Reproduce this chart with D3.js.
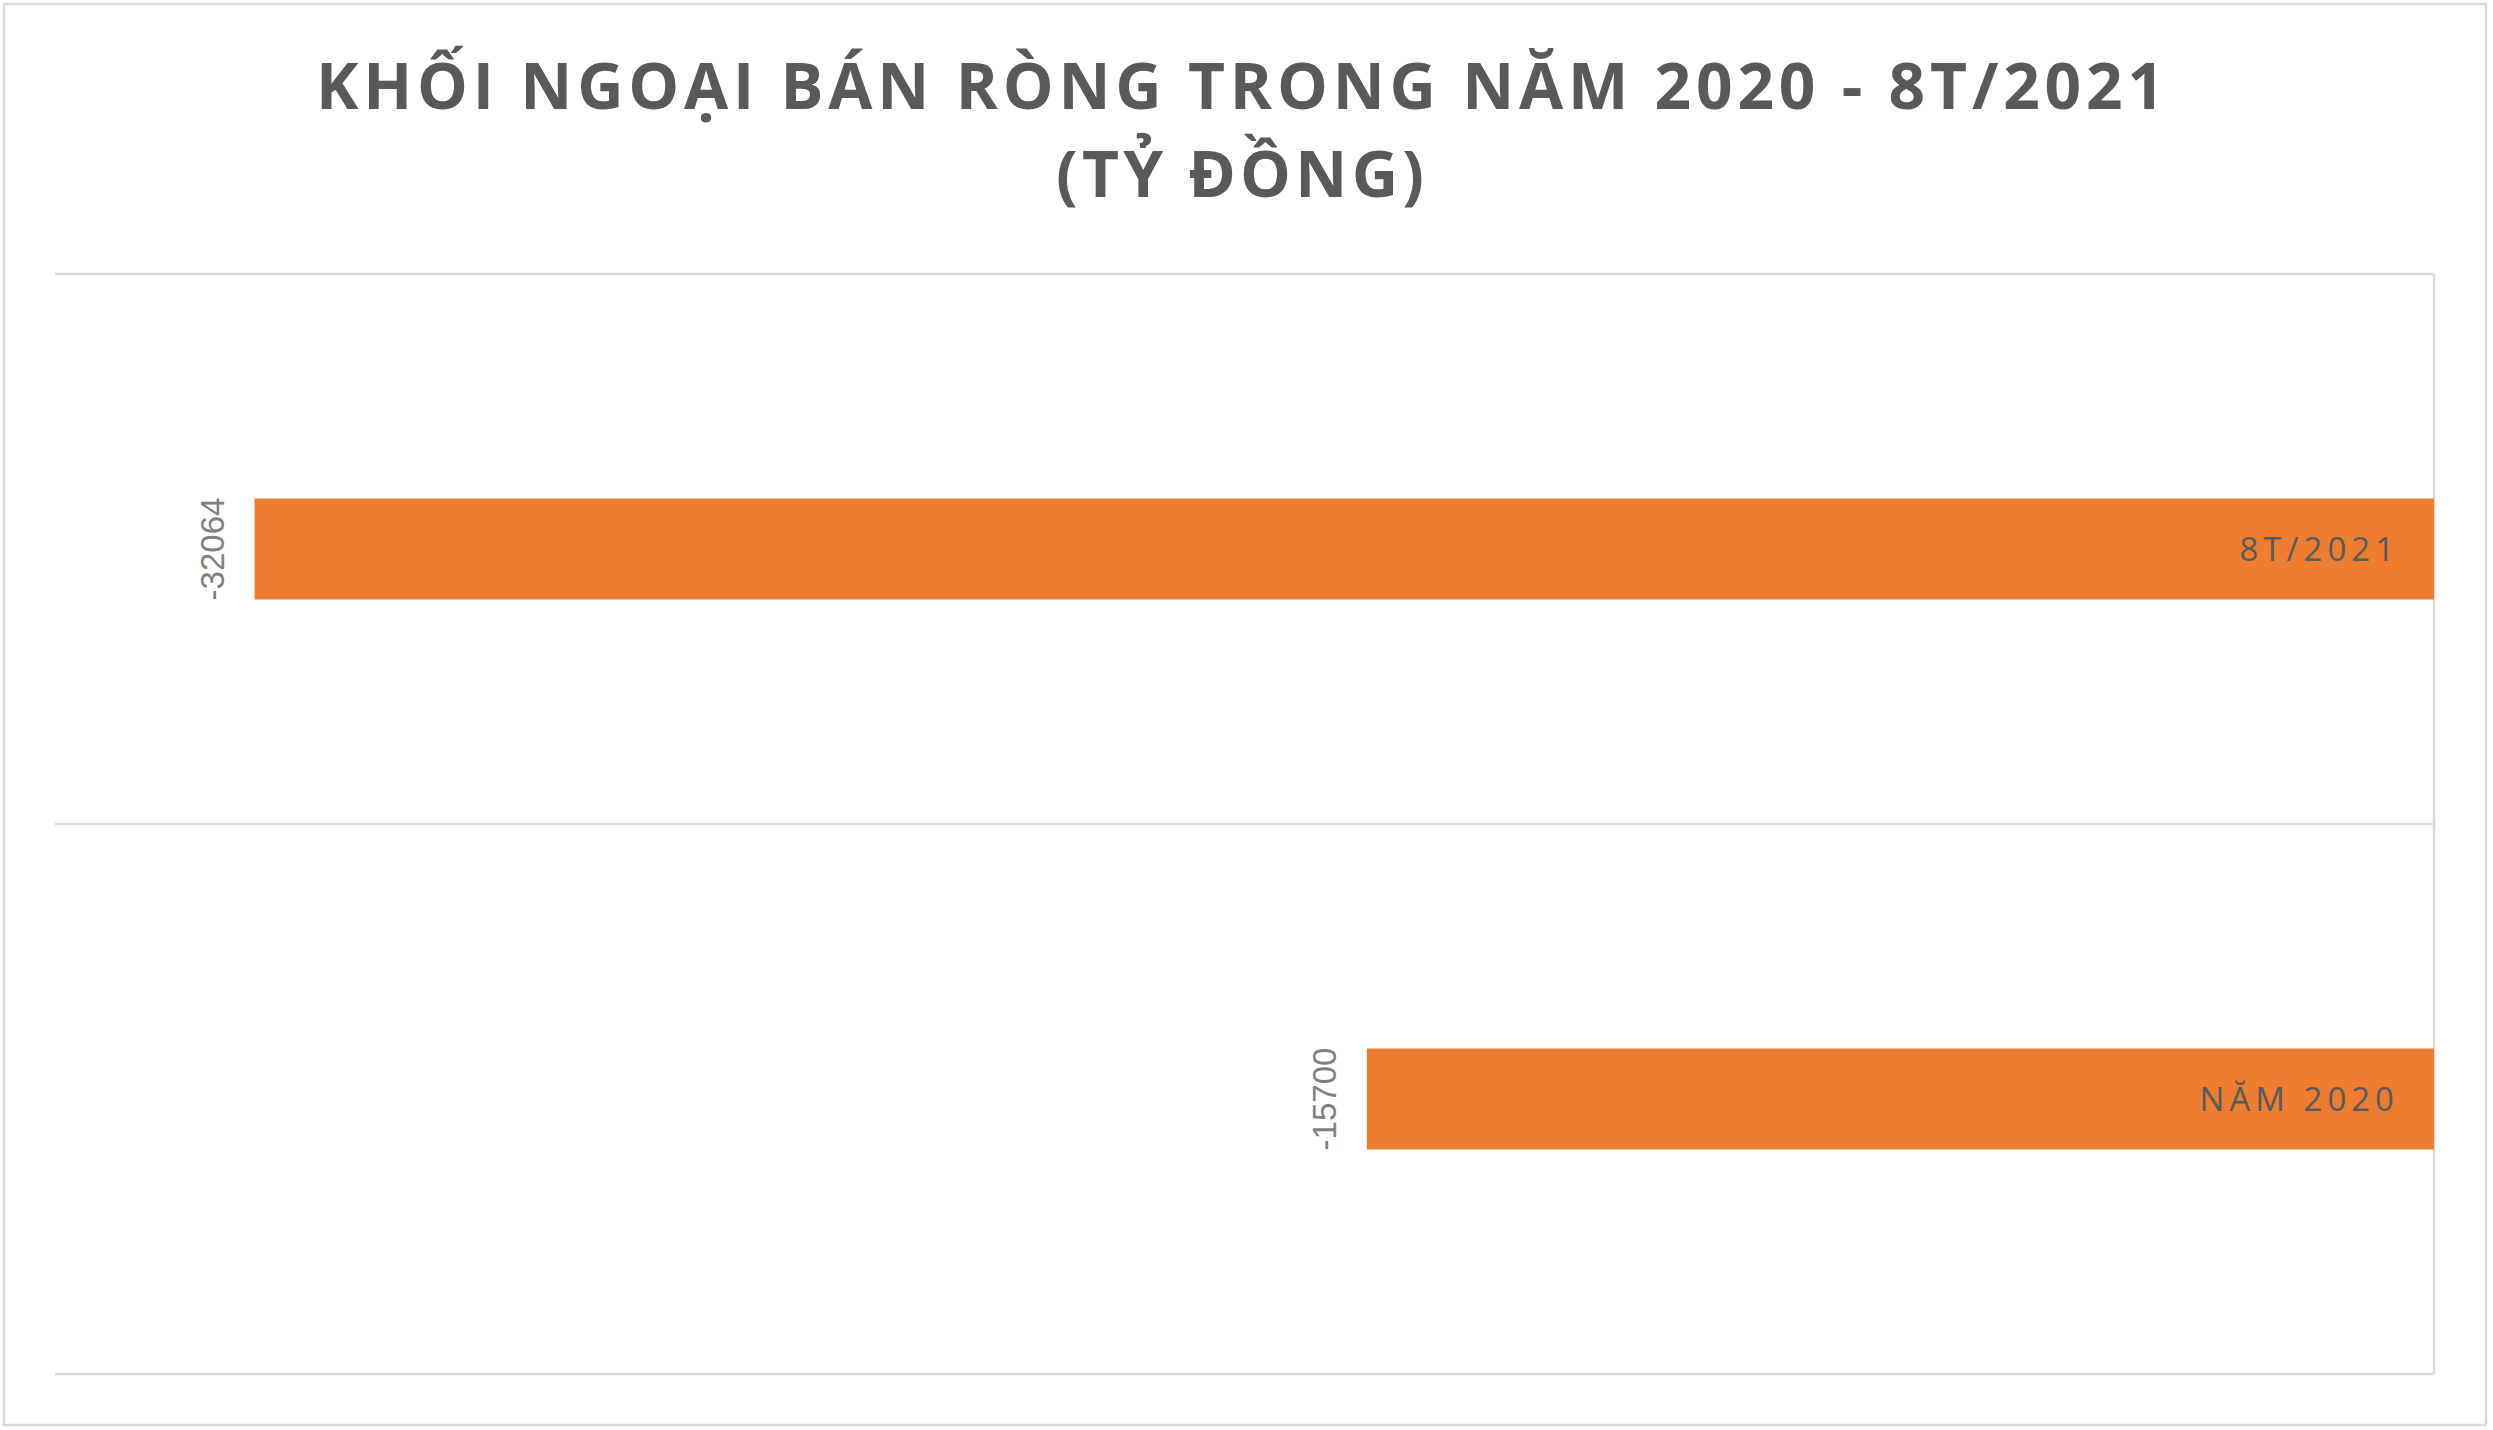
<!DOCTYPE html>
<html>
<head>
<meta charset="utf-8">
<script src="https://cdnjs.cloudflare.com/ajax/libs/d3/7.8.5/d3.min.js"></script>
<style>
  html, body { margin: 0; padding: 0; background: #ffffff; }
  svg { display: block; }
</style>
</head>
<body>
<svg id="chart" width="2493" height="1430"></svg>
<script>
// ---- data ----
const titleLines = ["KHỐI NGOẠI BÁN RÒNG TRONG NĂM 2020 - 8T/2021", "(TỶ ĐỒNG)"];
const categories = ["8T/2021", "NĂM 2020"];   // top to bottom
const values = [-32064, -15700];
const xDomain = [-35000, 0];

// ---- layout ----
const W = 2493, H = 1430;
const plot = { left: 55, right: 2434, top: 274, bottom: 1374 };
const svg = d3.select("#chart");
const grey = "#d9d9d9";
const textGrey = "#595959";

// chart area border
svg.append("rect")
  .attr("x", 4).attr("y", 4)
  .attr("width", 2482).attr("height", 1421)
  .attr("fill", "#fff").attr("stroke", grey).attr("stroke-width", 2.5);

// scales
const x = d3.scaleLinear().domain(xDomain).range([plot.left, plot.right]);
const y = d3.scaleBand().domain(categories).range([plot.top, plot.bottom]).paddingInner(0).paddingOuter(0);
const barFrac = 101 / 550;
const barH = y.bandwidth() * barFrac;

// horizontal gridlines at category boundaries
const bounds = categories.map(c => y(c)).concat([y(categories[categories.length - 1]) + y.bandwidth()]);
svg.append("g").selectAll("line").data(bounds).join("line")
  .attr("x1", plot.left).attr("x2", plot.right)
  .attr("y1", d => d).attr("y2", d => d)
  .attr("stroke", grey).attr("stroke-width", 2.5);

// category axis line at zero
svg.append("line")
  .attr("x1", x(0)).attr("x2", x(0))
  .attr("y1", plot.top).attr("y2", plot.bottom)
  .attr("stroke", grey).attr("stroke-width", 2.5);

const data = categories.map((c, i) => ({ cat: c, val: values[i] }));

// bars
svg.append("g").selectAll("rect").data(data).join("rect")
  .attr("x", d => x(d.val))
  .attr("y", d => y(d.cat) + (y.bandwidth() - barH) / 2)
  .attr("width", d => x(0) - x(d.val))
  .attr("height", barH)
  .attr("fill", "#ED7D31");

// category labels inside bars, right aligned
const ls = 5;
svg.append("g").selectAll("text").data(data).join("text")
  .attr("x", x(0) - 40 + ls)
  .attr("y", d => y(d.cat) + y.bandwidth() / 2)
  .attr("dy", "0.35em")
  .attr("text-anchor", "end")
  .attr("font-family", "'Open Sans', sans-serif")
  .attr("font-size", 33)
  .attr("letter-spacing", ls)
  .attr("fill", textGrey)
  .text(d => d.cat);

// value labels, rotated
svg.append("g").selectAll("text").data(data).join("text")
  .attr("transform", d => `translate(${x(d.val) - 31},${y(d.cat) + y.bandwidth() / 2}) rotate(-90)`)
  .attr("text-anchor", "middle")
  .attr("font-family", "'Liberation Sans', Arial, sans-serif")
  .attr("font-size", 33)
  .attr("fill", "#7f7f7f")
  .text(d => d.val);

// title
const titleSpec = [
  { text: titleLines[0], cx: 1240, base: 109, width: 1848 },
  { text: titleLines[1], cx: 1240, base: 197, width: 368 }
];
titleSpec.forEach(t => {
  const el = svg.append("text")
    .attr("x", t.cx).attr("y", t.base)
    .attr("text-anchor", "middle")
    .attr("font-family", "'Open Sans', sans-serif")
    .attr("font-weight", 700)
    .attr("font-size", 64)
    .attr("fill", textGrey)
    .text(t.text);
  const nat = el.node().getComputedTextLength();
  const n = t.text.length;
  if (nat < t.width) {
    const sp = (t.width - nat) / (n - 1);
    el.attr("letter-spacing", sp).attr("x", t.cx + sp / 2);
  } else {
    el.attr("font-size", 64 * t.width / nat);
  }
});
</script>
</body>
</html>
